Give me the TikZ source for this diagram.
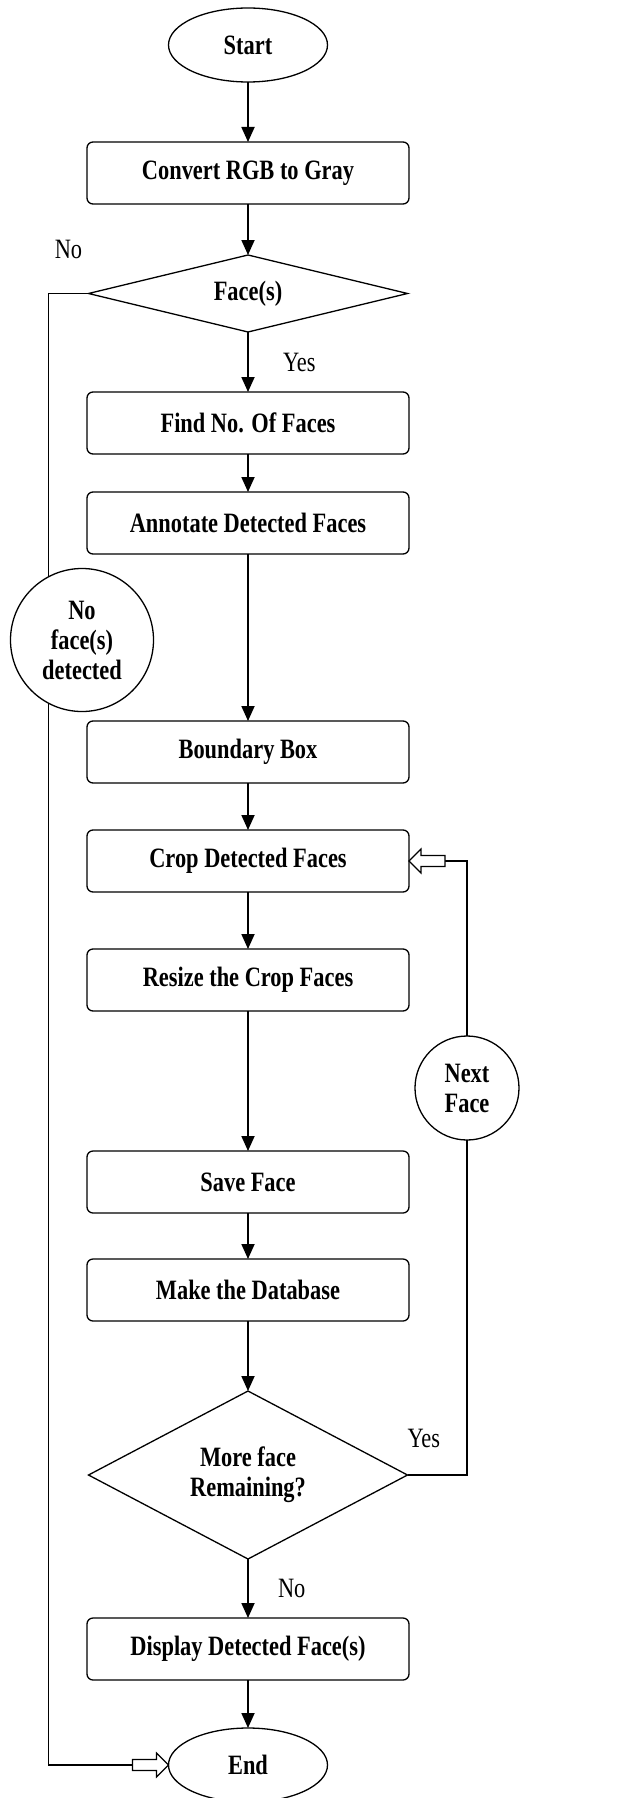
\documentclass[tikz,border=0pt]{standalone}
\usepackage{fontspec}
\setmainfont{Liberation Serif}[FakeStretch=0.8]
\usetikzlibrary{shapes.geometric,positioning,arrows.meta}
\newcommand{\flowfont}{\fontsize{28}{30}\selectfont}

\begin{document}
\begin{tikzpicture}[
  x=1pt, y=-1pt,
  every node/.style={font=\flowfont, outer sep=0pt},
  box/.style={draw, line width=1.3pt, rounded corners=6pt, minimum width=322pt,
              minimum height=62pt, font=\flowfont\bfseries, align=center},
  term/.style={draw, ellipse, line width=1.3pt, minimum width=159pt,
               minimum height=74pt, font=\flowfont\bfseries},
  test/.style={draw, diamond, line width=1.3pt, inner sep=0pt,
               font=\flowfont\bfseries, align=center},
  joint/.style={draw, circle, fill=white, line width=1.3pt, inner sep=0pt,
                font=\flowfont\bfseries, align=center},
  lbl/.style={inner sep=0pt},
  arrow/.style={-{Triangle[length=15pt,width=13pt]}, line width=1.8pt},
  link/.style={line width=1.3pt},
  hollow/.pic={\draw[line width=1.1pt, fill=white] (0,0) -- (-12,-12) -- (-12,-5.5)
               -- (-36,-5.5) -- (-36,5.5) -- (-12,5.5) -- (-12,12) -- cycle;}
]
\useasboundingbox (0,0) rectangle (617,1798);

% main column
\node[term] (start) at (248,45) {Start};
\node[box, below=60pt of start] (gray) {Convert RGB to Gray};
\node[test, below=51pt of gray, minimum width=319pt, minimum height=77pt, aspect=4] (faces) {Face(s)};
\node[box, below=60pt of faces] (count) {Find No. Of Faces};
\node[box, below=38pt of count] (annot) {Annotate Detected Faces};
\node[box, below=167pt of annot] (bbox) {Boundary Box};
\node[box, below=47pt of bbox] (crop) {Crop Detected Faces};
\node[box, below=57pt of crop] (resize) {Resize the Crop Faces};
\node[box, below=140pt of resize] (save) {Save Face};
\node[box, below=46pt of save] (dbase) {Make the Database};
\node[test, below=70pt of dbase, minimum width=319pt, minimum height=168pt, aspect=1.9] (more) {More face\\Remaining?};
\node[box, below=59pt of more] (show) {Display Detected Face(s)};
\node[term, below=48pt of show] (finish) {End};

\draw[arrow] (start) -- (gray);
\draw[arrow] (gray) -- (faces);
\draw[arrow] (faces) -- node[lbl, right=35pt] {Yes} (count);
\draw[arrow] (count) -- (annot);
\draw[arrow] (annot) -- (bbox);
\draw[arrow] (bbox) -- (crop);
\draw[arrow] (crop) -- (resize);
\draw[arrow] (resize) -- (save);
\draw[arrow] (save) -- (dbase);
\draw[arrow] (dbase) -- (more);
\draw[arrow] (more) -- node[lbl, right=30pt] {No} (show);
\draw[arrow] (show) -- (finish);

% no face branch
\coordinate (lcorner) at ([xshift=-40pt]faces.west);
\coordinate (endtail) at ([xshift=-36pt]finish.west);
\draw[link] (faces.west) -- node[lbl, above=35pt] {No} (lcorner) |- (endtail);
\pic at (finish.west) {hollow};
\node[joint, minimum size=143pt] (noface) at (82,640) {No\\face(s)\\detected};

% next face loop
\node[joint, minimum size=104pt] (nxt) at (467,1088) {Next\\Face};
\coordinate (croptail) at ([xshift=36pt]crop.east);
\draw[link] (more.east) node[lbl, anchor=south west, yshift=27pt] {Yes} -| (nxt.south);
\draw[link] (nxt.north) |- (croptail);
\pic[rotate=180] at (crop.east) {hollow};
\end{tikzpicture}
\end{document}
